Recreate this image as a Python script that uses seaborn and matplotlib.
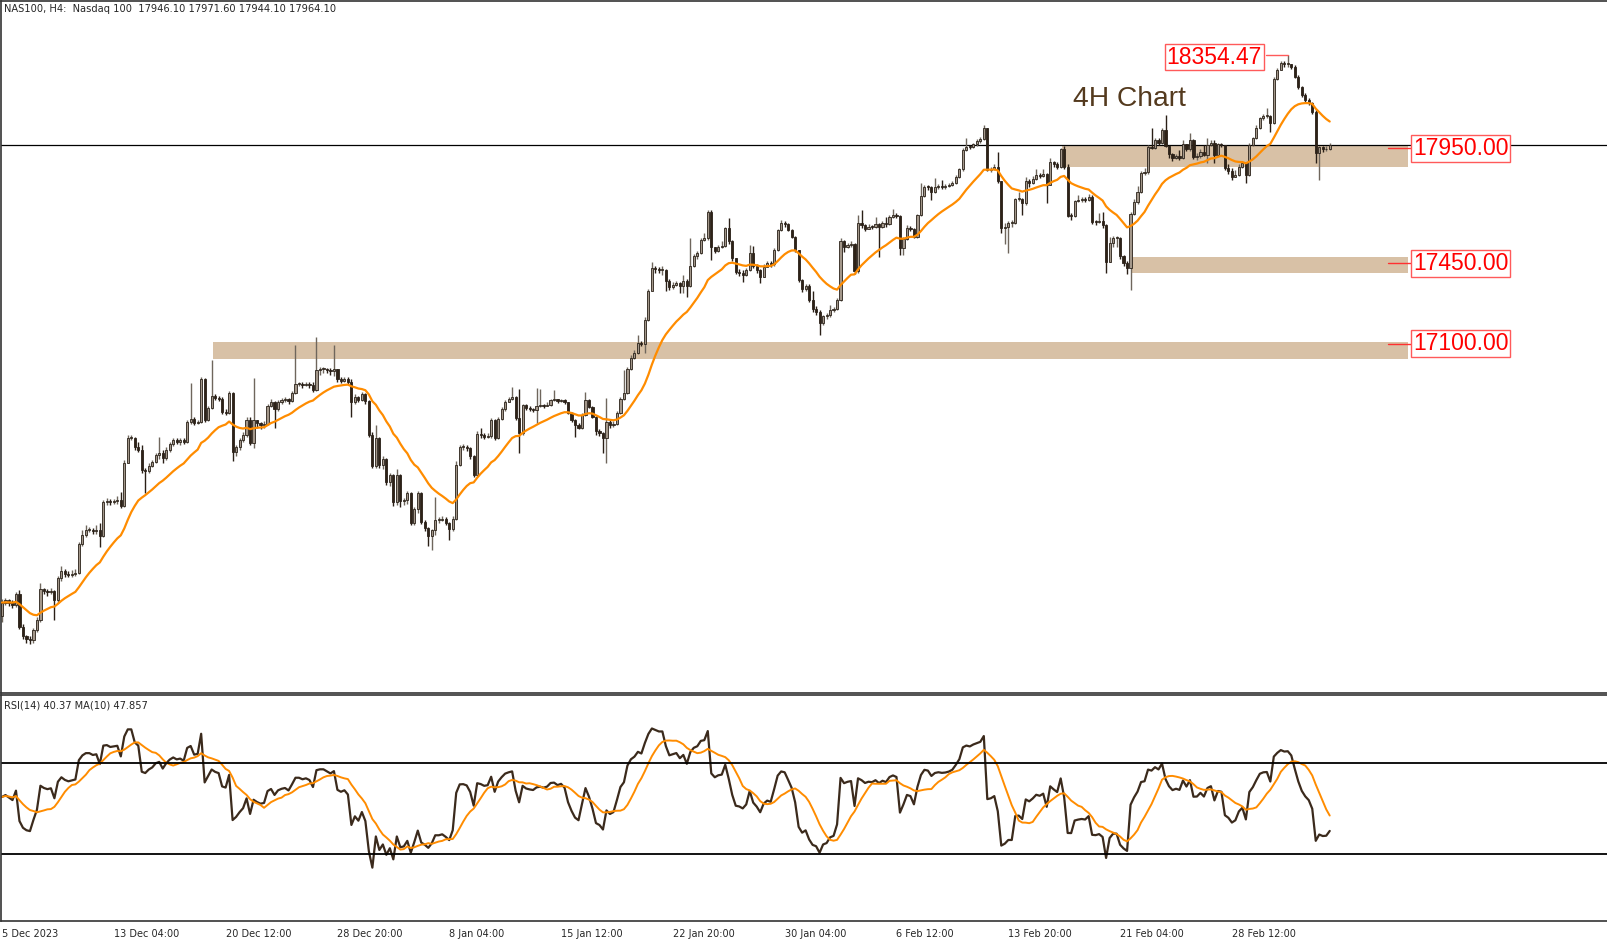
import numpy as np
import pandas as pd
import seaborn as sns
import matplotlib.pyplot as plt

# NAS100 H4 candles (5 Dec 2023 20:00 .. 6 Mar 2024 00:00)
first_open = 15915
closes = [
    15975, 15985, 15975, 15965, 16010, 15870, 15830, 15815, 15810, 15855,
    15900, 16035, 16025, 16020, 16025, 15985, 16080, 16110, 16100, 16095,
    16100, 16105, 16230, 16270, 16290, 16290, 16285, 16290, 16265, 16410,
    16415, 16410, 16415, 16420, 16395, 16580, 16690, 16690, 16650, 16640,
    16550, 16545, 16570, 16585, 16615, 16625, 16605, 16640, 16665, 16680,
    16675, 16680, 16675, 16760, 16775, 16755, 16760, 16945, 16770, 16820,
    16875, 16865, 16860, 16805, 16800, 16885, 16630, 16650, 16680, 16705,
    16770, 16670, 16770, 16755, 16745, 16750, 16830, 16845, 16815, 16845,
    16855, 16860, 16850, 16885, 16925, 16925, 16920, 16925, 16920, 16900,
    16985, 16990, 16990, 16985, 16980, 16990, 16945, 16940, 16945, 16935,
    16845, 16870, 16855, 16880, 16850, 16705, 16570, 16690, 16575, 16600,
    16500, 16530, 16410, 16530, 16415, 16420, 16450, 16320, 16380, 16450,
    16325, 16300, 16265, 16290, 16335, 16335, 16340, 16320, 16295, 16340,
    16575, 16650, 16652, 16645, 16610, 16530, 16710, 16705, 16695, 16700,
    16770, 16690, 16775, 16815, 16848, 16860, 16868, 16776, 16711, 16835,
    16820, 16815, 16812, 16830, 16834, 16830, 16836, 16856, 16858, 16850,
    16856, 16845, 16800, 16770, 16745, 16735, 16790, 16856, 16827, 16783,
    16720, 16711, 16690, 16760, 16745, 16752, 16800, 16860, 16885, 16990,
    17040, 17062, 17105, 17100, 17205, 17330, 17430, 17425, 17420, 17420,
    17375, 17345, 17355, 17365, 17350, 17375, 17350, 17440, 17480, 17495,
    17550, 17558, 17675, 17522, 17505, 17520, 17525, 17602, 17545, 17471,
    17414, 17410, 17400, 17420, 17495, 17440, 17420, 17392, 17435, 17450,
    17445, 17510, 17595, 17625, 17622, 17595, 17566, 17508, 17378, 17340,
    17350, 17290, 17250, 17240, 17190, 17220, 17225, 17245, 17250, 17290,
    17545, 17520, 17530, 17535, 17415, 17625, 17615, 17600, 17610, 17608,
    17622, 17610, 17625, 17620, 17650, 17660, 17655, 17515, 17555, 17605,
    17600, 17565, 17660, 17742, 17783, 17780, 17760, 17780, 17785, 17783,
    17785, 17790, 17800, 17826, 17858, 17942, 17957, 17955, 17970, 17980,
    17990, 18037, 17856, 17860, 17870, 17810, 17602, 17610, 17625, 17625,
    17728, 17730, 17712, 17809, 17800, 17815, 17834, 17830, 17840, 17790,
    17892, 17880, 17870, 17946, 17870, 17656, 17655, 17720, 17725, 17728,
    17725, 17740, 17630, 17628, 17632, 17615, 17457, 17540, 17560, 17560,
    17480, 17450, 17430, 17665, 17718, 17762, 17841, 17848, 17957, 17952,
    17985, 17975, 18030, 17960, 17925, 17906, 17915, 17910, 17970, 17945,
    17986, 17914, 17915, 17935, 17920, 17965, 17975, 17920, 17968, 17965,
    17863, 17850, 17826, 17835, 17870, 17885, 17835, 17964, 17993, 18037,
    18080, 18090, 18092, 18060, 18250, 18290, 18320, 18315, 18318, 18305,
    18262, 18218, 18182, 18160, 18145, 18110, 17928, 17955, 17945, 17946.1,
    17964.1,
]
highs = [
    15990, 15995, 15990, 15985, 16020, 16030, 15880, 15835, 15830, 15865,
    15910, 16060, 16040, 16035, 16040, 16030, 16090, 16135, 16120, 16110,
    16115, 16120, 16240, 16290, 16310, 16305, 16300, 16310, 16320, 16420,
    16430, 16425, 16425, 16440, 16455, 16595, 16705, 16705, 16695, 16675,
    16660, 16560, 16580, 16595, 16625, 16695, 16640, 16650, 16675, 16690,
    16690, 16690, 16690, 16770, 16930, 16780, 16770, 16955, 16950, 16830,
    17030, 16880, 16875, 16870, 16815, 16895, 16890, 16660, 16690, 16715,
    16780, 16780, 16950, 16770, 16760, 16765, 16840, 16860, 16850, 16855,
    16865, 16870, 16865, 16895, 17095, 16935, 16935, 16935, 16935, 16935,
    17130, 17000, 17000, 16995, 16995, 17095, 16990, 16955, 16955, 16955,
    16945, 16880, 16875, 16890, 16885, 16855, 16715, 16745, 16695, 16610,
    16605, 16540, 16535, 16555, 16535, 16430, 16460, 16455, 16390, 16460,
    16455, 16335, 16305, 16295, 16435, 16345, 16350, 16345, 16325, 16350,
    16590, 16660, 16665, 16660, 16650, 16615, 16720, 16735, 16712, 16710,
    16778, 16775, 16782, 16825, 16855, 16868, 16912, 16875, 16905, 16840,
    16840, 16828, 16822, 16906, 16905, 16840, 16845, 16862, 16899, 16862,
    16862, 16858, 16848, 16805, 16775, 16755, 16798, 16892, 16860, 16830,
    16785, 16730, 16715, 16866, 16770, 16765, 16810, 16868, 16985, 17000,
    17050, 17072, 17138, 17112, 17215, 17340, 17457, 17440, 17432, 17440,
    17425, 17380, 17370, 17375, 17370, 17400, 17380, 17558, 17490, 17505,
    17560, 17580, 17682, 17680, 17520, 17530, 17545, 17610, 17645, 17550,
    17475, 17425, 17420, 17430, 17530, 17525, 17445, 17425, 17445, 17460,
    17460, 17515, 17600, 17640, 17635, 17625, 17600, 17570, 17510, 17380,
    17360, 17360, 17330, 17265, 17245, 17225, 17235, 17268, 17262, 17300,
    17560, 17550, 17540, 17545, 17540, 17660, 17680, 17620, 17620, 17618,
    17650, 17625, 17635, 17652, 17660, 17686, 17668, 17660, 17565, 17615,
    17612, 17605, 17665, 17798, 17790, 17790, 17785, 17820, 17795, 17812,
    17795, 17800, 17810, 17834, 17865, 17950, 17993, 17965, 17975, 17990,
    18000, 18050, 18040, 17870, 17880, 17935, 17810, 17625, 17635, 17640,
    17735, 17762, 17735, 17827, 17815, 17830, 17862, 17842, 17862, 17842,
    17906, 17895, 17890, 17952, 17960, 17880, 17670, 17725, 17748, 17738,
    17740, 17752, 17745, 17640, 17668, 17675, 17620, 17566, 17568, 17570,
    17565, 17485, 17460, 17672, 17728, 17785, 17850, 17863, 17965, 18037,
    17995, 17995, 18037, 18095, 17965, 17930, 17925, 17942, 17986, 17970,
    18015, 17990, 17930, 17945, 17965, 17995, 17985, 17985, 17975, 17975,
    17965, 17880, 17866, 17855, 17880, 17890, 17885, 17975, 18000, 18052,
    18088, 18100, 18124, 18095, 18258, 18300, 18331, 18330, 18354.47, 18318,
    18312, 18268, 18222, 18190, 18168, 18150, 18115, 17960, 17960, 17962,
    17971.6,
]
lows = [
    15890, 15965, 15960, 15950, 15955, 15860, 15815, 15800, 15795, 15800,
    15845, 15890, 16010, 16005, 16010, 15900, 15975, 16070, 16085, 16085,
    16085, 16090, 16100, 16220, 16260, 16280, 16275, 16275, 16215, 16260,
    16400, 16400, 16405, 16405, 16385, 16390, 16580, 16680, 16640, 16630,
    16540, 16450, 16540, 16565, 16580, 16600, 16580, 16595, 16630, 16655,
    16665, 16660, 16665, 16670, 16750, 16745, 16750, 16755, 16760, 16765,
    16815, 16855, 16850, 16795, 16790, 16795, 16590, 16610, 16640, 16675,
    16695, 16660, 16645, 16735, 16730, 16735, 16745, 16825, 16735, 16810,
    16840, 16845, 16840, 16845, 16880, 16915, 16910, 16915, 16910, 16890,
    16895, 16965, 16975, 16975, 16965, 16960, 16935, 16930, 16935, 16925,
    16783, 16840, 16848, 16850, 16840, 16695, 16560, 16560, 16560, 16555,
    16485, 16480, 16395, 16400, 16390, 16400, 16405, 16310, 16310, 16365,
    16315, 16285, 16220, 16205, 16270, 16320, 16330, 16310, 16247, 16285,
    16335, 16570, 16640, 16635, 16600, 16520, 16525, 16690, 16685, 16690,
    16690, 16680, 16685, 16770, 16810, 16845, 16855, 16770, 16624, 16705,
    16812, 16808, 16805, 16754, 16825, 16822, 16828, 16830, 16850, 16842,
    16845, 16838, 16795, 16762, 16696, 16728, 16730, 16785, 16820, 16776,
    16705, 16700, 16624, 16580, 16735, 16740, 16745, 16795, 16855, 16880,
    16985, 17035, 17055, 17090, 17058, 17200, 17350, 17410, 17408, 17400,
    17330, 17335, 17340, 17350, 17320, 17320, 17305, 17345, 17435, 17470,
    17490, 17545, 17550, 17465, 17495, 17500, 17515, 17520, 17535, 17460,
    17405, 17395, 17370, 17395, 17415, 17430, 17410, 17363, 17390, 17440,
    17435, 17440, 17505, 17590, 17610, 17590, 17560, 17500, 17370, 17325,
    17330, 17280, 17240, 17225, 17138, 17180, 17210, 17215, 17238, 17245,
    17285, 17500, 17515, 17520, 17405, 17410, 17605, 17590, 17600, 17598,
    17605, 17478, 17605, 17610, 17615, 17645, 17645, 17486, 17486, 17550,
    17590, 17558, 17560, 17655, 17740, 17770, 17725, 17755, 17775, 17775,
    17775, 17780, 17785, 17795, 17820, 17850, 17940, 17945, 17950, 17960,
    17975, 17985, 17850, 17848, 17855, 17800, 17580, 17535, 17493, 17610,
    17620, 17720, 17660, 17705, 17780, 17795, 17812, 17820, 17825, 17711,
    17790, 17870, 17860, 17865, 17860, 17650, 17640, 17650, 17715, 17718,
    17715, 17722, 17620, 17618, 17625, 17605, 17406, 17455, 17520, 17520,
    17470, 17440, 17405, 17334, 17660, 17710, 17755, 17835, 17840, 17945,
    17945, 17965, 17970, 17955, 17906, 17895, 17905, 17900, 17905, 17940,
    17940, 17905, 17900, 17910, 17915, 17885, 17960, 17885, 17915, 17955,
    17855, 17840, 17812, 17825, 17830, 17865, 17798, 17830, 17960, 17990,
    18035, 18075, 18080, 18022, 18055, 18245, 18300, 18305, 18305, 18295,
    18255, 18210, 18175, 18150, 18138, 18100, 17885, 17812, 17935, 17940,
    17944.1,
]

tick_bars = [0, 32, 64, 96, 128, 160, 192, 224, 256, 288, 320, 352]
tick_labels = ["5 Dec 2023", "13 Dec 04:00", "20 Dec 12:00", "28 Dec 20:00",
               "8 Jan 04:00", "15 Jan 12:00", "22 Jan 20:00", "30 Jan 04:00",
               "6 Feb 12:00", "13 Feb 20:00", "21 Feb 04:00", "28 Feb 12:00"]

# support / resistance zones
levels = [17950.00, 17450.00, 17100.00]
zone_lo = [17870, 17406, 17034]
zone_hi = [17960, 17479, 17108]
zone_start = [303.4, 323.4, 60.4]
zone_end = 402.4
peak_bar = 368
peak_price = 18354.47
last_price = 17964.1

df = pd.DataFrame({"close": closes, "high": highs, "low": lows})
df["open"] = [first_open] + closes[:-1]
df["bar"] = np.arange(len(df))
df["ema"] = df["close"].ewm(span=20, adjust=False).mean()

# RSI(14), Wilder smoothing, started from a neutral state
ag, al = 20.0, 20.0
rsi = []
prev = first_open
for c in closes:
    d = c - prev
    ag = (ag * 13 + max(d, 0)) / 14
    al = (al * 13 + max(-d, 0)) / 14
    rsi.append(100 - 100 / (1 + ag / al))
    prev = c
df["rsi"] = rsi
df["rsi_ma"] = df["rsi"].rolling(10, min_periods=1).mean()

sns.set_style("white")
plt.rcParams["font.family"] = ["DejaVu Sans"]

W, H = 1608, 943
fig = plt.figure(figsize=(W / 100, H / 100), dpi=100)
ax = fig.add_axes([1 / W, 1 - 693 / H, 1 - 1 / W, 692 / H])
ax2 = fig.add_axes([1 / W, 1 - 921 / H, 1 - 1 / W, 226 / H], sharex=ax)

px = 3.494
xmin = -1 / px
ax.set_xlim(xmin, xmin + (W - 1) / px)
ax.set_ylim(15581.7, 18590.5)

# zones
for lo, hi, xs in zip(zone_lo, zone_hi, zone_start):
    ax.fill_between([xs, zone_end], lo, hi, color="#d8c1a6", lw=0, zorder=0.5)

# candles
up = df["close"] >= df["open"]
body_lo = np.minimum(df["open"], df["close"])
body_h = np.maximum(np.abs(df["close"] - df["open"]), 4)
wick_col = np.where(up, "#6f665c", "#2a1f16")
ax.vlines(df["bar"], df["low"], df["high"], colors=wick_col, lw=1, zorder=2)
ax.bar(df["bar"], body_h, bottom=body_lo, width=0.62,
       color=np.where(up, "#a3978a", "#2e2217"), edgecolor="#2a2119",
       linewidth=0.6, zorder=3)

sns.lineplot(data=df, x="bar", y="ema", ax=ax, color="#ff8c00", lw=1.6, zorder=4)

ax.axhline(last_price, color="black", lw=0.9, zorder=1)

# level labels
for lvl in levels:
    ax.plot([396.6, 403.8], [lvl, lvl], color="#ff3030", lw=1, zorder=5)
    ax.text(403.8, lvl, f"{lvl:.2f}", ha="left", va="center", fontsize=16.5,
            family="Liberation Sans", color="#ff0000", zorder=6,
            bbox=dict(boxstyle="square,pad=0.08", fc="white", ec="#ff5a5a", lw=1))
ax.plot([361.7, peak_bar], [peak_price, peak_price], color="#ff5a5a", lw=1, zorder=5)
ax.text(333.3, 18347, f"{peak_price:.2f}", ha="left", va="center", fontsize=16.5,
        family="Liberation Sans", color="#ff0000", zorder=6,
        bbox=dict(boxstyle="square,pad=0.08", fc="white", ec="#ff5a5a", lw=1))
ax.text(306.6, 18135, "4H Chart", ha="left", va="baseline", fontsize=20.3,
        family="Liberation Sans", color="#543a1e")

# RSI panel
sns.lineplot(data=df, x="bar", y="rsi", ax=ax2, color="#3b2a1c", lw=1.6)
sns.lineplot(data=df, x="bar", y="rsi_ma", ax=ax2, color="#ff8c00", lw=1.4)
ax2.axhline(70, color="black", lw=1.3)
ax2.axhline(30, color="black", lw=1.3)
ax2.set_ylim(0.6, 100)

for a in (ax, ax2):
    a.set_yticks([])
    a.set_xlabel("")
    a.set_ylabel("")
    a.spines["right"].set_visible(False)
    for s in ("left", "top", "bottom"):
        a.spines[s].set_color("#333333")
        a.spines[s].set_linewidth(1.2)
ax.tick_params(axis="x", bottom=False, labelbottom=False)

ax2.set_xticks(tick_bars)
ax2.set_xticklabels(tick_labels, ha="left", fontsize=7)
ax2.tick_params(axis="x", direction="out", length=4, width=0.8, pad=2)

fig.text(4 / W, 1 - 9 / H, "NAS100, H4:  Nasdaq 100  17946.10 17971.60 17944.10 17964.10",
         fontsize=7.1, va="center", ha="left")
fig.text(4 / W, 1 - 705 / H, "RSI(14) 40.37 MA(10) 47.857",
         fontsize=7.1, va="center", ha="left")

fig.savefig("out.png", dpi=100)
